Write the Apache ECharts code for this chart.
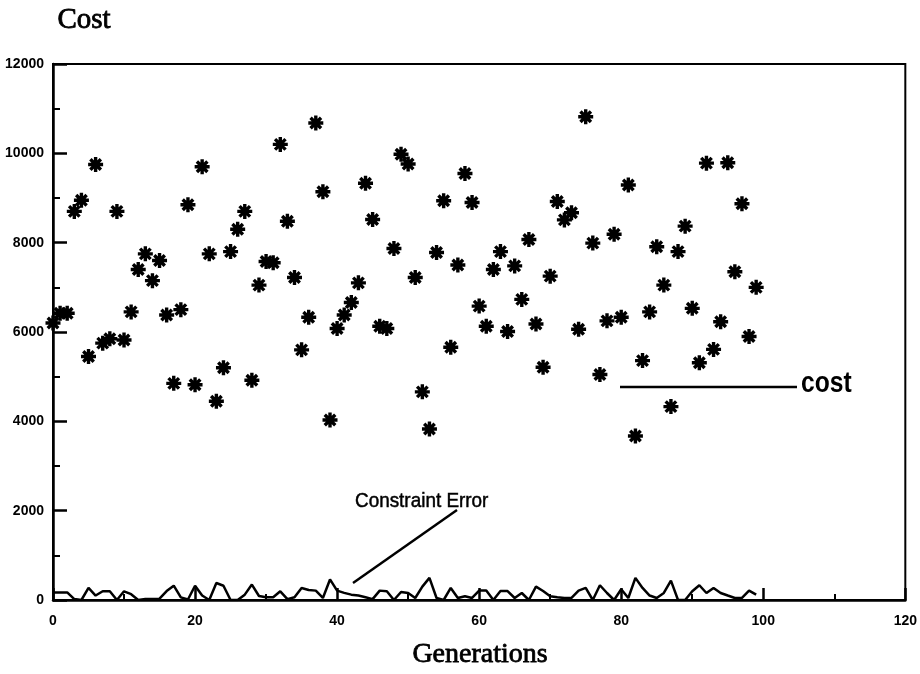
<!DOCTYPE html>
<html>
<head>
<meta charset="utf-8">
<script src="https://cdn.jsdelivr.net/npm/echarts@6/dist/echarts.min.js"></script>
<style>
html,body{margin:0;padding:0;background:#fff;}
#chart{width:920px;height:674px;}
</style>
</head>
<body>
<div id="chart"></div>
<script>
// Generations (x values)
const generations = [
  0,1,2,3,4,5,6,7,8,9,
  10,11,12,13,14,15,16,17,18,19,
  20,21,22,23,24,25,26,27,28,29,
  30,31,32,33,34,35,36,37,38,39,
  40,41,42,43,44,45,46,47,48,49,
  50,51,52,53,54,55,56,57,58,59,
  60,61,62,63,64,65,66,67,68,69,
  70,71,72,73,74,75,76,77,78,79,
  80,81,82,83,84,85,86,87,88,89,
  90,91,92,93,94,95,96,97,98,99
];
// Cost per generation (star markers)
const costValues = [
  6200,6420,6420,8700,8950,5450,9750,5750,5850,8700,
  5820,6450,7400,7750,7150,7600,6380,4850,6500,8850,
  4820,9700,7750,4450,5200,7800,8300,8700,4920,7050,
  7580,7550,10200,8480,7220,5600,6330,10680,9140,4030,
  6080,6380,6660,7100,9330,8520,6130,6080,7870,9980,
  9760,7220,4660,3830,7780,8940,5660,7500,9550,8900,
  6580,6130,7400,7800,6010,7480,6730,8070,6180,5210,
  7250,8920,8510,8670,6060,10820,7990,5050,6250,8190,
  6330,9290,3670,5360,6450,7910,7050,4330,7800,8370,
  6530,5310,9780,5610,6230,9790,7350,8870,5900,7000
];
// Constraint error per generation (line)
const errorValues = [
  170,170,170,20,0,270,100,195,195,0,
  195,130,0,20,20,30,200,320,60,10,
  320,100,0,380,320,0,0,120,345,90,
  60,60,195,20,60,270,225,210,45,460,
  210,160,120,100,60,20,210,195,0,180,
  157,45,300,495,45,0,270,45,82,45,
  210,210,0,200,200,45,157,0,300,200,
  82,60,45,45,210,270,0,330,157,0,
  240,45,495,270,100,45,157,435,0,0,
  195,330,157,270,157,100,45,45,210,120
];
const xTicks = [0, 20, 40, 60, 80, 100, 120];
const yTicks = [0, 2000, 4000, 6000, 8000, 10000, 12000];

const costData = generations.map((g, i) => [g, costValues[i]]);
const errData = generations.map((g, i) => [g, errorValues[i]]);

const starPath = 'path://M5 0L5 10M0 5L10 5M1.5 1.5L8.5 8.5M8.5 1.5L1.5 8.5';

const chart = echarts.init(document.getElementById('chart'), null, {renderer: 'canvas'});

function labelStyle(margin) {
  return {
    margin: margin,
    formatter: function (v) { return String(v); },
    fontFamily: 'Liberation Sans, Arial, sans-serif',
    fontSize: 14,
    fontWeight: 'bold',
    color: '#000'
  };
}

chart.setOption({
  animation: false,
  backgroundColor: '#fff',
  grid: {left: 53, right: 14, top: 64, bottom: 74, show: true, borderColor: '#000', borderWidth: 2},
  xAxis: {
    type: 'value', min: xTicks[0], max: xTicks[xTicks.length - 1], interval: 20,
    axisLine: {lineStyle: {color: '#000', width: 2.5}},
    axisTick: {show: true, inside: true, length: 12, lineStyle: {color: '#000', width: 2.5}},
    minorTick: {show: true, splitNumber: 2, length: 6, lineStyle: {color: '#000', width: 2}},
    axisLabel: labelStyle(14),
    splitLine: {show: false}
  },
  yAxis: {
    type: 'value', min: yTicks[0], max: yTicks[yTicks.length - 1], interval: 2000,
    axisLine: {show: true, lineStyle: {color: '#000', width: 2.5}},
    axisTick: {show: true, inside: true, length: 14, lineStyle: {color: '#000', width: 2.5}},
    minorTick: {show: true, splitNumber: 2, length: 7, lineStyle: {color: '#000', width: 2}},
    axisLabel: labelStyle(9),
    splitLine: {show: false}
  },
  series: [
    {
      name: 'cost', type: 'scatter', data: costData,
      symbol: starPath, symbolSize: 15,
      itemStyle: {color: 'rgba(0,0,0,0)', borderColor: '#000', borderWidth: 3.4, opacity: 1},
      z: 3
    },
    {
      name: 'Constraint Error', type: 'line', data: errData,
      showSymbol: false, symbol: 'none',
      lineStyle: {color: '#000', width: 2.5},
      z: 2
    }
  ],
  graphic: [
    {type: 'text', left: 57, top: 5, style: {text: 'Cost', font: '29px "Liberation Serif", "Times New Roman", serif', fill: '#000', stroke: '#000', lineWidth: 0.8}},
    {type: 'text', left: 412, top: 640, style: {text: 'Generations', font: '28px "Liberation Serif", "Times New Roman", serif', fill: '#000', stroke: '#000', lineWidth: 0.8}},
    {type: 'line', shape: {x1: 620, y1: 387, x2: 797, y2: 387}, style: {stroke: '#000', lineWidth: 2.5}},
    {type: 'text', x: 801, y: 384, scaleX: 0.82, style: {text: 'cost', font: 'bold 30px "Liberation Sans", Arial, sans-serif', fill: '#000', textVerticalAlign: 'middle'}},
    {type: 'text', x: 355, y: 501, scaleX: 0.9, style: {text: 'Constraint Error', font: '21px "Liberation Sans", Arial, sans-serif', fill: '#000', stroke: '#000', lineWidth: 0.5, textVerticalAlign: 'middle'}},
    {type: 'line', shape: {x1: 457, y1: 510, x2: 353, y2: 583}, style: {stroke: '#000', lineWidth: 2.5}}
  ]
});
</script>
</body>
</html>
